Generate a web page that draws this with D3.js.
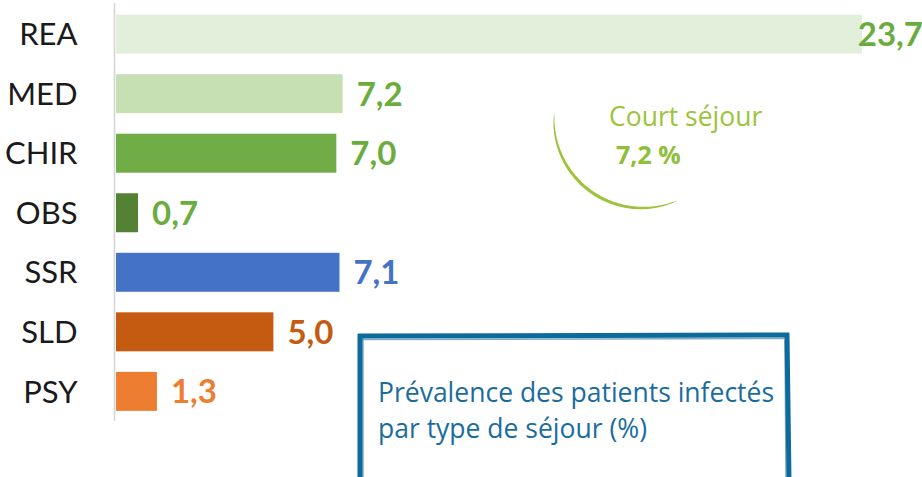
<!DOCTYPE html>
<html>
<head>
<meta charset="utf-8">
<script src="https://cdn.jsdelivr.net/npm/d3@7"></script>
<style>
  body { margin: 0; background: #fff; }
  svg { display: block; }
</style>
</head>
<body>
<div class="container"></div>
<script>
// Data
const categories = ["REA", "MED", "CHIR", "OBS", "SSR", "SLD", "PSY"];
const values = [23.7, 7.2, 7.0, 0.7, 7.1, 5.0, 1.3];
const barColors = ["#e2efda", "#c6e0b4", "#70ad47", "#548235", "#4472c4", "#c55a11", "#ed7d31"];
const labelColors = ["#6aad3e", "#6aad3e", "#6aad3e", "#6aad3e", "#4472c4", "#c55a11", "#ed7d31"];
const noteTitle = "Court séjour";
const noteValue = "7,2 %";
const boxLines = ["Prévalence des patients infectés", "par type de séjour (%)"];

const width = 922;
const height = 477;

const svg = d3.select(".container")
  .append("svg")
  .attr("width", width)
  .attr("height", height);

// scales
const x = d3.scaleLinear()
  .domain([0, d3.max(values)])
  .range([116, 862]);

const y = d3.scaleBand()
  .domain(categories)
  .range([4.5, 421])
  .paddingInner(0.345)
  .paddingOuter(0.17);

const fmt = (v) => d3.format(".1f")(v).replace(".", ",");

// bars
svg.append("g")
  .selectAll("rect")
  .data(categories)
  .enter()
  .append("rect")
  .attr("x", x(0))
  .attr("y", (d) => y(d))
  .attr("width", (d, i) => x(values[i]) - x(0))
  .attr("height", y.bandwidth())
  .attr("fill", (d, i) => barColors[i]);

// axis line on the left, labels only
const yAxis = d3.axisLeft(y).tickSize(0).tickPadding(37);
const axisG = svg.append("g")
  .attr("transform", "translate(114.5,0)")
  .call(yAxis);
axisG.select(".domain")
  .attr("stroke", "#d4d4d4")
  .attr("stroke-width", 1.5)
  .attr("d", "M0,3V421");
axisG.selectAll("text")
  .attr("font-family", "Lato, 'Open Sans', sans-serif")
  .attr("font-size", 31)
  .attr("fill", "#1a1a1a")
  .attr("dy", "0.36em");

// value labels (REA is pushed against the right edge)
const overflow = (i) => x(values[i]) + 15 > width - 70;
svg.append("g")
  .selectAll("text")
  .data(categories)
  .enter()
  .append("text")
  .attr("x", (d, i) => overflow(i) ? width + 1 : x(values[i]) + 14)
  .attr("y", (d) => y(d) + y.bandwidth() / 2)
  .attr("dy", "0.36em")
  .attr("text-anchor", (d, i) => overflow(i) ? "end" : "start")
  .attr("font-family", "Lato, 'Open Sans', sans-serif")
  .attr("font-weight", "bold")
  .attr("font-size", 33)
  .attr("fill", (d, i) => labelColors[i])
  .text((d, i) => fmt(values[i]));

// "Court séjour" note with a tapered arc
const cx = 642, cy = 120, r = 88;
const steps = 80;
const outer = [], inner = [];
for (let k = 0; k <= steps; k++) {
  const t = k / steps;
  const ang = Math.PI * 1.025 - t * (Math.PI * 0.66);
  const w = 3.2 * Math.pow(Math.sin(Math.PI * t), 0.6);
  outer.push([cx + (r + w / 2) * Math.cos(ang), cy + (r + w / 2) * Math.sin(ang)]);
  inner.push([cx + (r - w / 2) * Math.cos(ang), cy + (r - w / 2) * Math.sin(ang)]);
}
svg.append("path")
  .attr("d", d3.line()(outer.concat(inner.reverse())) + "Z")
  .attr("fill", "#9dc33b");

svg.append("text")
  .attr("x", 609)
  .attr("y", 126)
  .attr("font-family", "'Open Sans', sans-serif")
  .attr("font-size", 26.5)
  .attr("fill", "#9dc33b")
  .text(noteTitle);

svg.append("text")
  .attr("x", 616)
  .attr("y", 164)
  .attr("font-family", "'Open Sans', sans-serif")
  .attr("font-weight", "bold")
  .attr("font-size", 25)
  .attr("fill", "#8fbf3a")
  .text(noteValue);

// brush-like box
const box = svg.append("g")
  .attr("fill", "none")
  .attr("stroke", "#0f6a9c");
box.append("path")
  .attr("d", "M358,336 L787,335 L789,480 M360,334 L360,480")
  .attr("stroke-width", 5);
box.append("path")
  .attr("d", "M362,339.5 L785,338.5 M785,340 L786,478 M363,338 L363,478")
  .attr("stroke-width", 1.5)
  .attr("opacity", 0.55);

box.selectAll("text")
  .data(boxLines)
  .enter()
  .append("text")
  .attr("x", 378)
  .attr("y", (d, i) => 402 + i * 36)
  .attr("stroke", "none")
  .attr("font-family", "'Open Sans', sans-serif")
  .attr("font-size", 26.5)
  .attr("fill", "#1a6c9f")
  .text((d) => d);
</script>
</body>
</html>
